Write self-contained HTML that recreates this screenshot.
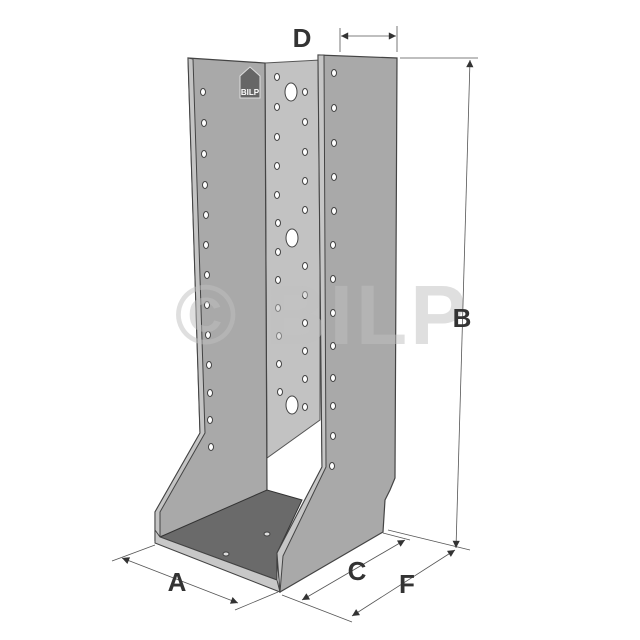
<!DOCTYPE html>
<html><head><style>body{margin:0;background:#fff}svg{display:block}</style></head><body>
<svg width="640" height="640" viewBox="0 0 640 640" xmlns="http://www.w3.org/2000/svg" font-family="Liberation Sans, sans-serif">
<defs>
<marker id="ar" viewBox="0 0 10 10" refX="10" refY="5" markerWidth="13" markerHeight="9" orient="auto-start-reverse"><path d="M0,0L10,5L0,10z" fill="#333"/></marker>
</defs>
<polygon points="265,63 320,60 320,420 267,458" fill="#c2c2c2" stroke="#555" stroke-width="1"/>
<polygon points="188,58 265,63 267,495 160,537 155,540 155,512 200,433" fill="#a9a9a9" stroke="#444" stroke-width="1.2"/>
<polygon points="188,58 193,59 205,433 160,512 160,537 155,540 155,512 200,433" fill="#c4c4c4" stroke="#444" stroke-width="1"/>
<polygon points="160,537 267,490 302,500 277,553 277,580" fill="#6a6a6a" stroke="#333" stroke-width="1"/>
<polygon points="155,530 160,537 277,580 280,592 155,543" fill="#c8c8c8" stroke="#444" stroke-width="1"/>
<polygon points="318,55 397,58 395,478 390,490 385,500 383,532 280,592 277,553 322,467" fill="#a9a9a9" stroke="#444" stroke-width="1.2"/>
<polygon points="318,55 324,55 326,467 283,556 280,592 277,553 322,467" fill="#c6c6c6" stroke="#444" stroke-width="1"/>
<g fill="#fff" stroke="#444" stroke-width="1">
<ellipse cx="203" cy="92" rx="2.5" ry="3.5"/><ellipse cx="204" cy="123" rx="2.5" ry="3.5"/><ellipse cx="204" cy="154" rx="2.5" ry="3.5"/><ellipse cx="205" cy="185" rx="2.5" ry="3.5"/><ellipse cx="206" cy="215" rx="2.5" ry="3.5"/><ellipse cx="206" cy="245" rx="2.5" ry="3.5"/><ellipse cx="207" cy="275" rx="2.5" ry="3.5"/><ellipse cx="207" cy="305" rx="2.5" ry="3.5"/><ellipse cx="208" cy="335" rx="2.5" ry="3.5"/><ellipse cx="209" cy="365" rx="2.5" ry="3.5"/><ellipse cx="210" cy="393" rx="2.5" ry="3.5"/><ellipse cx="210" cy="420" rx="2.5" ry="3.5"/><ellipse cx="211" cy="447" rx="2.5" ry="3.5"/>
<ellipse cx="277" cy="77" rx="2.5" ry="3.5"/><ellipse cx="277" cy="107" rx="2.5" ry="3.5"/><ellipse cx="277" cy="137" rx="2.5" ry="3.5"/><ellipse cx="277" cy="166" rx="2.5" ry="3.5"/><ellipse cx="277" cy="195" rx="2.5" ry="3.5"/><ellipse cx="278" cy="223" rx="2.5" ry="3.5"/><ellipse cx="278" cy="252" rx="2.5" ry="3.5"/><ellipse cx="278" cy="280" rx="2.5" ry="3.5"/><ellipse cx="278" cy="308" rx="2.5" ry="3.5"/><ellipse cx="279" cy="336" rx="2.5" ry="3.5"/><ellipse cx="279" cy="364" rx="2.5" ry="3.5"/><ellipse cx="280" cy="392" rx="2.5" ry="3.5"/>
<ellipse cx="305" cy="92" rx="2.5" ry="3.5"/><ellipse cx="305" cy="122" rx="2.5" ry="3.5"/><ellipse cx="305" cy="152" rx="2.5" ry="3.5"/><ellipse cx="305" cy="181" rx="2.5" ry="3.5"/><ellipse cx="305" cy="210" rx="2.5" ry="3.5"/><ellipse cx="305" cy="266" rx="2.5" ry="3.5"/><ellipse cx="305" cy="295" rx="2.5" ry="3.5"/><ellipse cx="305" cy="323" rx="2.5" ry="3.5"/><ellipse cx="305" cy="351" rx="2.5" ry="3.5"/><ellipse cx="305" cy="379" rx="2.5" ry="3.5"/><ellipse cx="305" cy="407" rx="2.5" ry="3.5"/>
<ellipse cx="291" cy="92" rx="6" ry="9"/><ellipse cx="292" cy="238" rx="6" ry="9"/><ellipse cx="292" cy="405" rx="6" ry="9"/>
<ellipse cx="334" cy="73" rx="2.5" ry="3.5"/><ellipse cx="334" cy="108" rx="2.5" ry="3.5"/><ellipse cx="334" cy="143" rx="2.5" ry="3.5"/><ellipse cx="334" cy="177" rx="2.5" ry="3.5"/><ellipse cx="334" cy="211" rx="2.5" ry="3.5"/><ellipse cx="333" cy="245" rx="2.5" ry="3.5"/><ellipse cx="333" cy="279" rx="2.5" ry="3.5"/><ellipse cx="333" cy="313" rx="2.5" ry="3.5"/><ellipse cx="333" cy="346" rx="2.5" ry="3.5"/><ellipse cx="333" cy="378" rx="2.5" ry="3.5"/><ellipse cx="333" cy="406" rx="2.5" ry="3.5"/><ellipse cx="333" cy="436" rx="2.5" ry="3.5"/><ellipse cx="332" cy="466" rx="2.5" ry="3.5"/>
<ellipse cx="226" cy="554" rx="3" ry="2" fill="#ddd"/><ellipse cx="267" cy="534" rx="3" ry="2" fill="#ddd"/>
</g>
<polygon points="240,76 250,67 260,76 260,98 240,98" fill="#666" stroke="#ddd" stroke-width="1"/>
<text x="250" y="95" font-size="8" font-weight="bold" fill="#fff" text-anchor="middle">BILP</text>
<text x="322" y="344" font-size="84" font-weight="bold" fill="#c0c0c0" fill-opacity="0.5" text-anchor="middle" letter-spacing="3">© BILP</text>
<g stroke="#555" stroke-width="0.8" fill="none">
<line x1="340" y1="28" x2="340" y2="52"/><line x1="397" y1="26" x2="397" y2="52"/>
<line x1="341" y1="36" x2="396" y2="36" marker-start="url(#ar)" marker-end="url(#ar)"/>
<line x1="400" y1="58" x2="478" y2="58"/><line x1="388" y1="530" x2="470" y2="550"/>
<line x1="470" y1="60" x2="456" y2="548" marker-start="url(#ar)" marker-end="url(#ar)"/>
<line x1="155" y1="545" x2="112" y2="561"/><line x1="278" y1="592" x2="235" y2="610"/>
<line x1="122" y1="558" x2="238" y2="603" marker-start="url(#ar)" marker-end="url(#ar)"/>
<line x1="282" y1="595" x2="352" y2="622"/><line x1="383" y1="533" x2="410" y2="540"/>
<line x1="302" y1="600" x2="405" y2="540" marker-start="url(#ar)" marker-end="url(#ar)"/>
<line x1="352" y1="616" x2="455" y2="550" marker-start="url(#ar)" marker-end="url(#ar)"/>
</g>
<g font-size="26" font-weight="bold" fill="#333" text-anchor="middle">
<text x="302" y="47">D</text><text x="462" y="327">B</text><text x="177" y="591">A</text><text x="357" y="580">C</text><text x="407" y="593">F</text>
</g>
</svg>
</body></html>
